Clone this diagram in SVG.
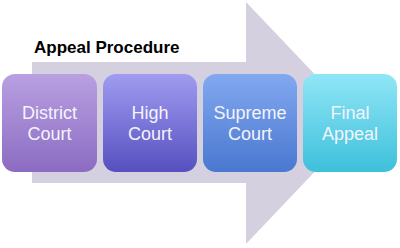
<svg xmlns="http://www.w3.org/2000/svg" width="400" height="248" viewBox="0 0 400 248">
<style>
.lbl{font-family:"Liberation Sans",Arial,sans-serif;font-size:18px;fill:#f4f4fb;text-anchor:middle}
.title{font-family:"Liberation Sans",Arial,sans-serif;font-size:17px;font-weight:bold;fill:#000}
.box{stroke:none}
</style>
<defs>
<linearGradient id="g1" x1="0" y1="0" x2="0" y2="1"><stop offset="0" stop-color="#b8a0e2"/><stop offset="1" stop-color="#8c6cc2"/></linearGradient>
<linearGradient id="g2" x1="0" y1="0" x2="0" y2="1"><stop offset="0" stop-color="#a09cf0"/><stop offset="1" stop-color="#5650c0"/></linearGradient>
<linearGradient id="g3" x1="0" y1="0" x2="0" y2="1"><stop offset="0" stop-color="#82a8f0"/><stop offset="1" stop-color="#4a78d0"/></linearGradient>
<linearGradient id="g4" x1="0" y1="0" x2="0" y2="1"><stop offset="0" stop-color="#90e6f6"/><stop offset="1" stop-color="#3ec0dc"/></linearGradient>
</defs>
<rect width="400" height="248" fill="#ffffff"/>
<g id="connectors">
<polygon points="32,62 246,62 246,2 361,123 246,244 246,183 32,183" fill="#d4d0e0"/>
</g>
<text class="title" x="34" y="53">Appeal Procedure</text>
<g id="district">
<rect class="box" x="2" y="74" width="95" height="98" rx="13" fill="url(#g1)"/>
<text class="lbl" x="49.5" y="119">District</text>
<text class="lbl" x="49.5" y="140">Court</text>
</g>
<g id="high">
<rect class="box" x="103" y="74" width="94" height="98" rx="13" fill="url(#g2)"/>
<text class="lbl" x="150" y="119">High</text>
<text class="lbl" x="150" y="140">Court</text>
</g>
<g id="supreme">
<rect class="box" x="203" y="74" width="94" height="98" rx="13" fill="url(#g3)"/>
<text class="lbl" x="250" y="119">Supreme</text>
<text class="lbl" x="250" y="140">Court</text>
</g>
<g id="final">
<rect class="box" x="303" y="74" width="94" height="98" rx="13" fill="url(#g4)"/>
<text class="lbl" x="350" y="119">Final</text>
<text class="lbl" x="350" y="140">Appeal</text>
</g>
</svg>
